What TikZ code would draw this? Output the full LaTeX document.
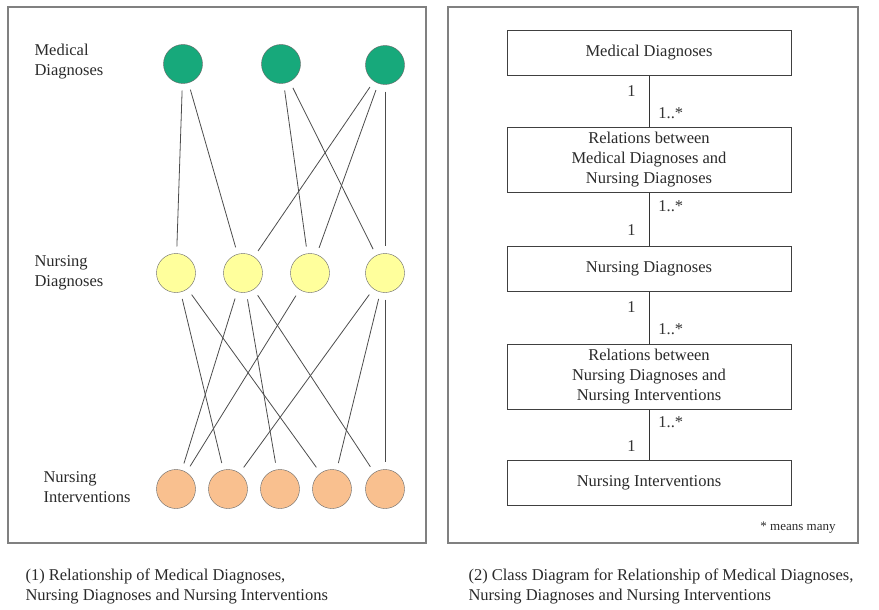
\documentclass[tikz,border=0pt]{standalone}
\usepackage{fontspec}
\setmainfont{Liberation Serif}
\usepackage{tikz}
\usetikzlibrary{positioning}
\definecolor{MedGreen}{HTML}{17A97B}
\definecolor{NurYellow}{HTML}{FFFF9C}
\definecolor{IntOrange}{HTML}{F9C08F}
\definecolor{FrameGrey}{HTML}{808080}
\definecolor{TextGrey}{HTML}{2A2A2A}

\begin{document}
\begin{tikzpicture}[x=1pt, y=-1pt, node distance=51pt, text=TextGrey, font=\fontsize{16.5}{20}\selectfont]
    \tikzstyle{dot} = [circle, draw=black!60, thin, minimum size=39pt, inner sep=0pt]
    \tikzstyle{line} = [draw, black!70, line width=0.8pt, shorten >=7pt, shorten <=7pt]
    \tikzstyle{block} = [rectangle, draw=black!75, line width=0.9pt, minimum width=284pt, minimum height=45pt, align=center, inner sep=5pt]
    \tikzstyle{mult} = [inner sep=1pt, font=\fontsize{16.5}{20}\selectfont]
    \tikzstyle{link} = [draw, black!80, line width=0.9pt]

    \useasboundingbox (0,0) rectangle (879,610);
    \draw [FrameGrey, line width=1.2pt] (8,7) rectangle (426,543);
    \draw [FrameGrey, line width=1.2pt] (448,7) rectangle (858,543);

    % (1) relationship of the three layers
    \node [anchor=west, align=left] (lmd) at (31,62) {Medical\\Diagnoses};
    \node [anchor=west, align=left] (lnd) at (31,273) {Nursing\\Diagnoses};
    \node [anchor=west, align=left] (lni) at (40,487) {Nursing\\Interventions};

    \node [dot, fill=MedGreen] (md1) at (183,64) {};
    \node [dot, fill=MedGreen] (md2) at (281,64) {};
    \node [dot, fill=MedGreen] (md3) at (385,65) {};

    \node [dot, fill=NurYellow] (nd1) at (176,273) {};
    \node [dot, fill=NurYellow] (nd2) at (243,273) {};
    \node [dot, fill=NurYellow] (nd3) at (310,273) {};
    \node [dot, fill=NurYellow] (nd4) at (385,273) {};

    \node [dot, fill=IntOrange] (ni1) at (176,489) {};
    \node [dot, fill=IntOrange] (ni2) at (228,489) {};
    \node [dot, fill=IntOrange] (ni3) at (280,489) {};
    \node [dot, fill=IntOrange] (ni4) at (332,489) {};
    \node [dot, fill=IntOrange] (ni5) at (385,489) {};

    \path [line] (md1) -- (nd1);
    \path [line] (md1) -- (nd2);
    \path [line] (md2) -- (nd3);
    \path [line] (md2) -- (nd4);
    \path [line] (md3) -- (nd2);
    \path [line] (md3) -- (nd3);
    \path [line] (md3) -- (nd4);

    \path [line] (nd1) -- (ni2);
    \path [line] (nd1) -- (ni4);
    \path [line] (nd2) -- (ni1);
    \path [line] (nd2) -- (ni3);
    \path [line] (nd2) -- (ni5);
    \path [line] (nd3) -- (ni1);
    \path [line] (nd4) -- (ni2);
    \path [line] (nd4) -- (ni4);
    \path [line] (nd4) -- (ni5);

    % (2) class diagram
    \node [block] (b1) at (649,53) {Medical Diagnoses};
    \node [block, below=of b1] (b2) {Relations between\\Medical Diagnoses and\\Nursing Diagnoses};
    \node [block, below=53pt of b2] (b3) {Nursing Diagnoses};
    \node [block, below=52pt of b3] (b4) {Relations between\\Nursing Diagnoses and\\Nursing Interventions};
    \node [block, below=50pt of b4] (b5) {Nursing Interventions};

    \path [link] (b1) -- node [mult, pos=0.3, anchor=east, xshift=-12pt] (m1a) {1}
                         node [mult, pos=0.73, anchor=west, xshift=8pt] (m1b) {1..*} (b2);
    \path [link] (b2) -- node [mult, pos=0.26, anchor=west, xshift=8pt] (m2a) {1..*}
                         node [mult, pos=0.7, anchor=east, xshift=-12pt] (m2b) {1} (b3);
    \path [link] (b3) -- node [mult, pos=0.29, anchor=east, xshift=-12pt] (m3a) {1}
                         node [mult, pos=0.71, anchor=west, xshift=8pt] (m3b) {1..*} (b4);
    \path [link] (b4) -- node [mult, pos=0.24, anchor=west, xshift=8pt] (m4a) {1..*}
                         node [mult, pos=0.72, anchor=east, xshift=-12pt] (m4b) {1} (b5);

    \node [font=\fontsize{13}{15}\selectfont] (note) at (798,528) {* means many};

    % captions
    \node [anchor=west, align=left] (cap1) at (22,586) {(1) Relationship of Medical Diagnoses,\\Nursing Diagnoses and Nursing Interventions};
    \node [anchor=west, align=left] (cap2) at (465,586) {(2) Class Diagram for Relationship of Medical Diagnoses,\\Nursing Diagnoses and Nursing Interventions};
\end{tikzpicture}
\end{document}
